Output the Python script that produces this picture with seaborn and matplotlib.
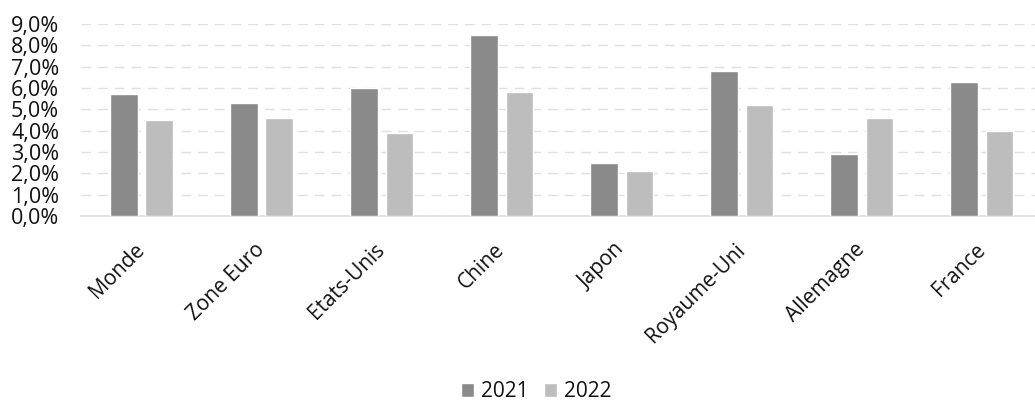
import matplotlib
matplotlib.use("Agg")
import matplotlib.pyplot as plt
import seaborn as sns
import pandas as pd
from matplotlib.ticker import FuncFormatter

categories = ["Monde", "Zone Euro", "Etats-Unis", "Chine", "Japon",
              "Royaume-Uni", "Allemagne", "France"]
values_2021 = [5.7, 5.3, 6.0, 8.5, 2.5, 6.8, 2.9, 6.3]
values_2022 = [4.5, 4.6, 3.9, 5.8, 2.1, 5.2, 4.6, 4.0]
series = ["2021", "2022"]
colors = ["#8a8a8a", "#bdbdbd"]

df = pd.DataFrame({
    "pays": categories * 2,
    "annee": [series[0]] * len(categories) + [series[1]] * len(categories),
    "valeur": values_2021 + values_2022,
})

sns.set_theme(style="white")
plt.rcParams["font.family"] = ["Open Sans", "DejaVu Sans"]

fig = plt.figure(figsize=(10.35, 4.04), dpi=100)
ax = fig.add_axes([0.0787, 0.465, 0.928, 0.4756])

sns.barplot(data=df, x="pays", y="valeur", hue="annee", palette=colors,
            width=0.59, gap=0.22, ax=ax, legend=True, zorder=3,
            saturation=1)

ax.set_ylim(0, 9)
ax.set_xlim(-0.5, len(categories) - 0.5)
ax.set_yticks(range(0, 10))
ax.yaxis.set_major_formatter(FuncFormatter(lambda v, p: f"{v:.1f}%".replace(".", ",")))
ax.grid(axis="y", color="#e0e0e0", linestyle=(0, (7, 5)), linewidth=1, zorder=0)
ax.set_axisbelow(True)
for s in ["top", "right", "left"]:
    ax.spines[s].set_visible(False)
ax.spines["bottom"].set_color("#e0e0e0")
ax.set_xlabel("")
ax.set_ylabel("")
ax.tick_params(axis="y", labelsize=15.5, colors="#111111", pad=16, length=0)
ax.tick_params(axis="x", labelsize=15, colors="#111111", length=0, pad=22)
for lab in ax.get_xticklabels():
    lab.set_rotation(45)
    lab.set_ha("right")
    lab.set_va("center")
    lab.set_rotation_mode("anchor")

leg = ax.legend(loc="center", bbox_to_anchor=(536.5 / 1035, 0.03),
                bbox_transform=fig.transFigure, ncol=2, frameon=False,
                fontsize=15, handlelength=0.62, handleheight=0.62,
                handletextpad=0.34, columnspacing=0.75,
                borderaxespad=0.0, borderpad=0.0)
for t in leg.get_texts():
    t.set_color("#111111")

fig.savefig("out.png", dpi=100)
